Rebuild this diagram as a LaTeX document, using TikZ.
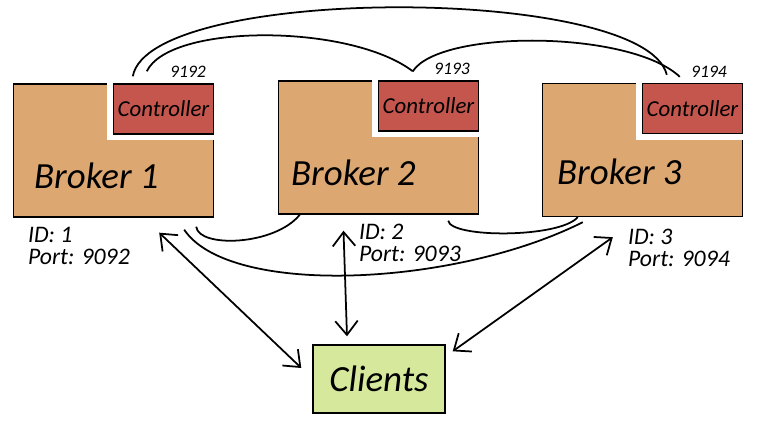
\documentclass[tikz,border=0pt]{standalone}
\usepackage{fontspec}
\setmainfont{Carlito}
\usepackage{tikz}
\usetikzlibrary{positioning}
\usetikzlibrary{calc}
\usetikzlibrary{arrows.meta}
\definecolor{brokerorange}{RGB}{221,167,114}
\definecolor{ctlred}{RGB}{196,86,78}
\definecolor{clientgreen}{RGB}{214,232,156}

\begin{document}
\begin{tikzpicture}[broker/.style={draw, rectangle, fill=brokerorange, line width=0.8pt, minimum width=4cm, minimum height=2.66cm},
			ctl/.style={draw, rectangle, fill=ctlred, line width=0.8pt, minimum width=2cm, minimum height=1cm, inner sep=0pt, anchor=north east,
				preaction={draw=white, line width=7pt}, font=\itshape\fontsize{13}{15}\selectfont},
			port/.style={inner sep=0pt, font=\itshape\fontsize{10}{12}\selectfont},
			brktext/.style={inner sep=0pt, anchor=base west, font=\itshape\fontsize{21}{24}\selectfont},
			idtext/.style={inner sep=0pt, align=left, font=\itshape\fontsize{13.5}{12.5}\selectfont},
			client/.style={draw, rectangle, fill=clientgreen, line width=0.8pt, minimum width=2.64cm, minimum height=1.36cm, font=\itshape\fontsize{21}{24}\selectfont},
			link/.style={draw, line width=1pt},
			>={Straight Barb[length=2.8mm, width=4.5mm]}]
			\useasboundingbox (0,0) rectangle (15.38,-8.5);
			
			% brokers and their controllers
			\node[broker](brk1) at (2.27,-3.01) {};
			\node[broker](brk2) at (7.57,-2.95) {};
			\node[broker](brk3) at (12.85,-3.0) {};
			\node[ctl](ctl1) at (brk1.north east) {Controller};
			\node[ctl](ctl2) at (brk2.north east) {Controller};
			\node[ctl](ctl3) at (brk3.north east) {Controller};
			
			\node[port, above left=0.1cm and 0.16cm of ctl1.north east](port1) {9192};
			\node[port, above left=0.1cm and 0.18cm of ctl2.north east](port2) {9193};
			\node[port, above left=0.1cm and 0.32cm of ctl3.north east](port3) {9194};
			
			\node[brktext](lbl1) at ($(brk1.south west)+(0.42,0.58)$) {Broker 1};
			\node[brktext](lbl2) at ($(brk2.south west)+(0.26,0.58)$) {Broker 2};
			\node[brktext](lbl3) at ($(brk3.south west)+(0.3,0.66)$) {Broker 3};
			
			\node[idtext, below right=0.18cm and 0.3cm of brk1.south west](id1) {ID: 1\\Port: 9092};
			\node[idtext, below right=0.18cm and 1.62cm of brk2.south west](id2) {ID: 2\\Port: 9093};
			\node[idtext, below right=0.24cm and 1.72cm of brk3.south west](id3) {ID: 3\\Port: 9094};
			
			\node[client](clients) at (7.58,-7.58) {Clients};
			
			% controller links
			\coordinate (a1) at ($(ctl1.north west)+(0.4,0.14)$);
			\coordinate (a2) at ($(ctl1.north west)+(0.68,0.24)$);
			\coordinate (b2) at ($(ctl2.north west)+(0.7,0.18)$);
			\coordinate (c1) at ($(ctl3.north west)+(0.5,0.16)$);
			\coordinate (c2) at ($(ctl3.north west)+(0.76,0.12)$);
			\draw[link] (a1) .. controls +(0.34,1.84) and +(-0.44,1.8) .. (c1);
			\draw[link] (a2) .. controls +(0.46,0.96) and +(-1.26,0.96) .. (b2);
			\draw[link] (b2) .. controls +(0.54,0.84) and +(-1.0,0.94) .. (c2);
			
			% broker links
			\coordinate (d1) at ($(brk1.south east)+(-0.36,-0.18)$);
			\coordinate (d2) at ($(brk2.south east)+(-0.62,-0.12)$);
			\coordinate (d3) at ($(brk1.south east)+(-0.6,-0.24)$);
			\coordinate (e2) at ($(brk2.south west)+(0.44,0)$);
			\coordinate (e3) at ($(brk3.south west)+(0.72,0)$);
			\coordinate (f3) at ($(brk3.south west)+(0.82,-0.1)$);
			\draw[link] (d1) .. controls +(0.05,-0.43) and +(-0.5,-0.62) .. (e2);
			\draw[link] (d2) .. controls +(0.05,-0.35) and +(-0.37,-0.42) .. (e3);
			\draw[link] (d3) .. controls +(0.9,-1.34) and +(-2.6,-1.3) .. (f3);
			
			% client links
			\coordinate (g1) at ($(brk1.south east)+(-1.1,-0.3)$);
			\coordinate (g2) at ($(brk2.south)+(-0.7,-0.32)$);
			\coordinate (g3) at ($(brk3.south west)+(1.42,-0.4)$);
			\coordinate (h1) at ($(clients.west)+(-0.22,0.22)$);
			\coordinate (h2) at ($(clients.north)+(-0.64,0.16)$);
			\coordinate (h3) at ($(clients.north east)+(0.14,-0.14)$);
			\draw[link, <->] (g1) -- (h1);
			\draw[link, <->] (g2) -- (h2);
			\draw[link, <->] (g3) -- (h3);
			
		\end{tikzpicture}
\end{document}
